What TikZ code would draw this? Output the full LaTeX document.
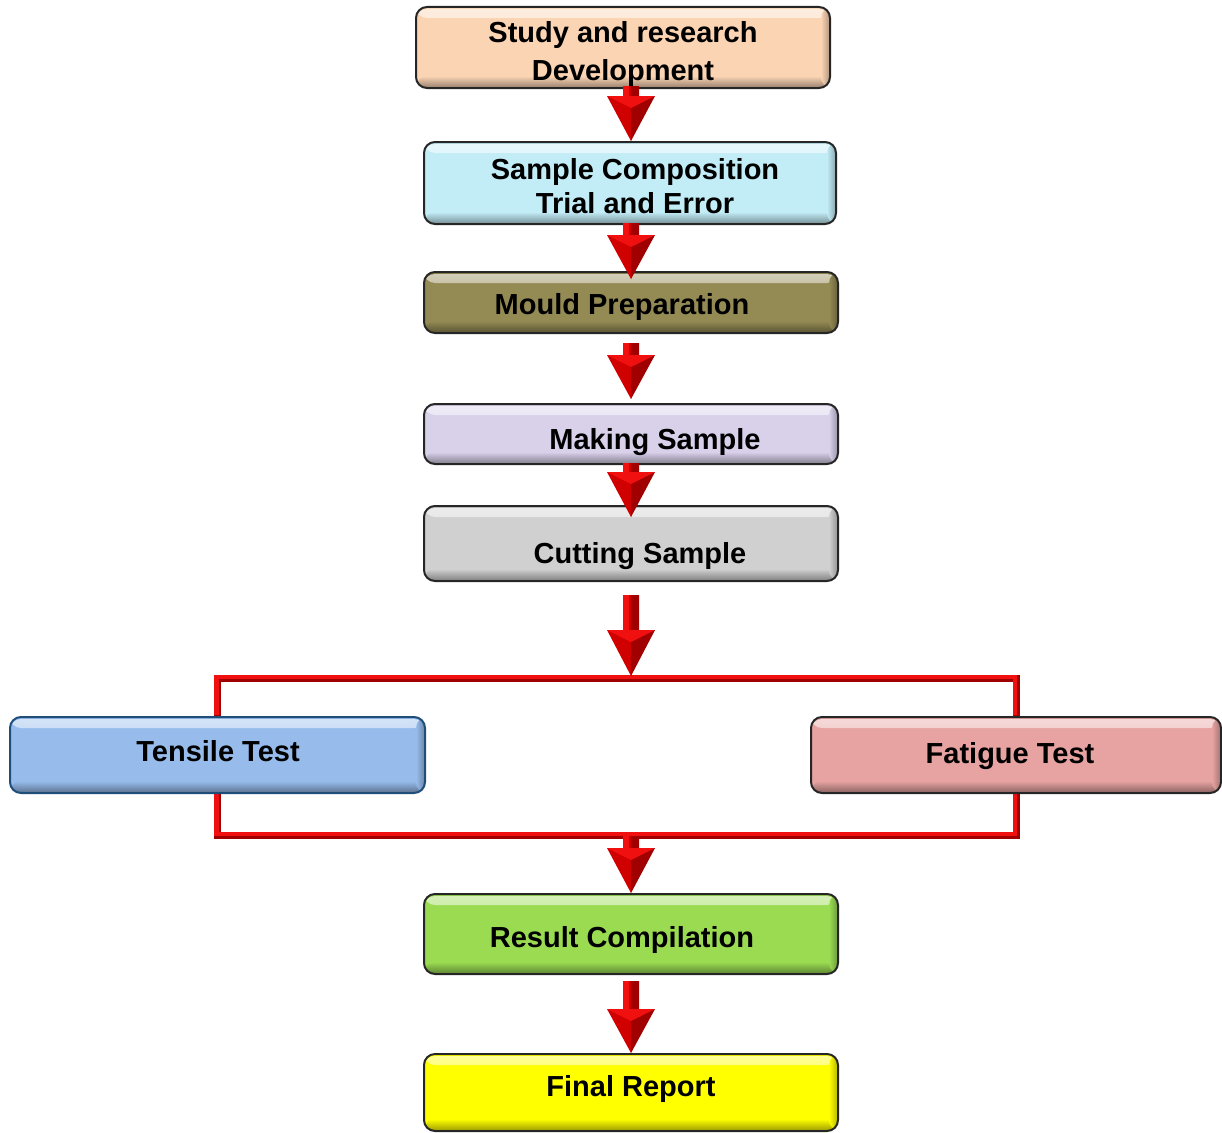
\documentclass[tikz,border=0pt]{standalone}
\usepackage{fontspec}
\setmainfont{Liberation Sans}
\usetikzlibrary{calc}
\pgfdeclarelayer{bg}
\pgfsetlayers{bg,main}
\definecolor{cpeach}{HTML}{FBD4B4}
\definecolor{ccyan}{HTML}{C2ECF6}
\definecolor{colive}{HTML}{948A54}
\definecolor{clav}{HTML}{D9D0EA}
\definecolor{cgray}{HTML}{D0D0D0}
\definecolor{cblue}{HTML}{97BCEC}
\definecolor{cpink}{HTML}{E6A3A1}
\definecolor{cgreen}{HTML}{9ADB52}
\definecolor{cyell}{HTML}{FFFF00}
\definecolor{bblue}{HTML}{1F4E79}
\definecolor{arlight}{HTML}{F01010}
\definecolor{armid}{HTML}{D00000}
\definecolor{ardark}{HTML}{A00000}
\newcommand{\redarrow}[3]{%
  \fill[armid] let \p1=(#1), \p2=(#2) in
    (\x1-8pt,\y1) -- (\x1,\y1) -- (\x1,\y2) -- (\x1-24pt,\y2+#3pt) -- (\x1-8pt,\y2+#3pt) -- cycle;
  \fill[ardark] let \p1=(#1), \p2=(#2) in
    (\x1+8pt,\y1) -- (\x1,\y1) -- (\x1,\y2) -- (\x1+24pt,\y2+#3pt) -- (\x1+8pt,\y2+#3pt) -- cycle;
  \fill[arlight] let \p1=(#1), \p2=(#2) in
    (\x1-8pt,\y1) -- (\x1-2pt,\y1) -- (\x1-2pt,\y2+#3pt) -- (\x1-8pt,\y2+#3pt) -- cycle;
  \fill[arlight] let \p1=(#1), \p2=(#2) in
    (\x1-24pt,\y2+#3pt) -- (\x1+24pt,\y2+#3pt) -- (\x1,\y2+#3pt-12pt) -- cycle;
}
\tikzset{
  box/.style={draw=black!85, line width=2pt, rounded corners=11pt, fill=#1, inner sep=0pt,
    path picture={
      \shade[top color=#1!40!white, bottom color=#1]
        ([yshift=-2pt]path picture bounding box.north west) rectangle ([yshift=-11pt]path picture bounding box.north east);
      \shade[top color=#1, bottom color=#1!60!black]
        ([yshift=12pt]path picture bounding box.south west) rectangle (path picture bounding box.south east);
      \shade[left color=#1, right color=#1!70!black]
        ([xshift=-9pt]path picture bounding box.north east) rectangle (path picture bounding box.south east);
    }},
  txt/.style={font=\fontsize{29}{35}\selectfont\bfseries, align=center, inner sep=0pt},
  one/.style={text height=21pt, text depth=0pt},
  brkdark/.style={draw=ardark, line width=7pt},
  brklight/.style={draw=arlight, line width=4.5pt},
}
\begin{document}
\begin{tikzpicture}[x=1pt,y=-1pt]
\useasboundingbox (0,0) rectangle (1222,1132);
% boxes
\node[box=cpeach, minimum width=414pt, minimum height=81pt] (s1) at (623,47.5) {};
\node[box=ccyan, minimum width=412pt, minimum height=82pt] (s2) at (630,183) {};
\node[box=colive, minimum width=414pt, minimum height=61pt] (s3) at (631,302.5) {};
\node[box=clav, minimum width=414pt, minimum height=60pt] (s4) at (631,434) {};
\node[box=cgray, minimum width=414pt, minimum height=75pt] (s5) at (631,543.5) {};
\node[box=cblue, draw=bblue, minimum width=415pt, minimum height=76pt] (s6) at (217.5,755) {};
\node[box=cpink, minimum width=410pt, minimum height=76pt] (s7) at (1016,755) {};
\node[box=cgreen, minimum width=414pt, minimum height=80pt] (s8) at (631,934) {};
\node[box=cyell, minimum width=414pt, minimum height=77pt] (s9) at (631,1092.5) {};
% junction coordinates
\coordinate (jtop) at (631,678);
\coordinate (jbot) at (631,835);
% bracket lines (behind boxes)
\begin{pgfonlayer}{bg}
\draw[brkdark] (s6.north) |- (jtop) -| (s7.north);
\draw[brkdark] (s6.south) |- (jbot) -| (s7.south);
\draw[brklight, transform canvas={yshift=1.2pt, xshift=-1.2pt}] (s6.north) |- (jtop) -| (s7.north);
\draw[brklight, transform canvas={yshift=1.2pt, xshift=-1.2pt}] (s6.south) |- (jbot) -| (s7.south);
\end{pgfonlayer}
% texts
\node[txt, font=\fontsize{29}{38}\selectfont\bfseries] (t1) at (623,54) {Study and research\\Development};
\node[txt, font=\fontsize{29}{34}\selectfont\bfseries] (t2) at (635,186) {Sample Composition\\Trial and Error};
\node[txt, one] (t3) at (622,304) {Mould Preparation};
\node[txt, one] (t4) at (655,439) {Making Sample};
\node[txt, one] (t5) at (640,553) {Cutting Sample};
\node[txt, one] (t6) at (218,751) {Tensile Test};
\node[txt, one] (t7) at (1010,753) {Fatigue Test};
\node[txt, one] (t8) at (622,937) {Result Compilation};
\node[txt, one] (t9) at (631,1086) {Final Report};
% arrows
\redarrow{$(s1.south)+(8,-3)$}{s2.north}{45}
\redarrow{$(s2.south)+(1,-2)$}{$(s3.north)+(0,8)$}{44}
\redarrow{$(s3.south)+(0,9)$}{$(s4.north)+(0,-4)$}{44}
\redarrow{$(s4.south)+(0,-2)$}{$(s5.north)+(0,12)$}{45}
\redarrow{$(s5.south)+(0,13)$}{$(jtop)+(0,-2)$}{46}
\redarrow{$(jbot)+(0,1)$}{s8.north}{45}
\redarrow{$(s8.south)+(0,6)$}{s9.north}{44}
\end{tikzpicture}
\end{document}
